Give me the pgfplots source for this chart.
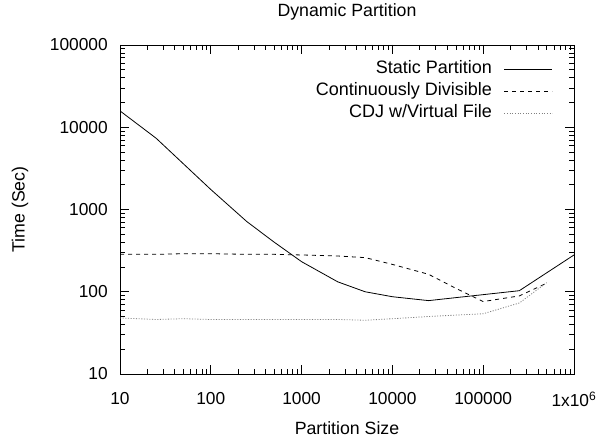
\documentclass[border=0pt]{standalone}
\usepackage{pgfplots}
\pgfplotsset{compat=1.18}
\usepackage{fontspec}
\setmainfont{Liberation Sans}
\begin{document}
\begin{tikzpicture}[font=\fontsize{13.3}{16}\selectfont]
\path[use as bounding box] (0pt,0pt) rectangle (452.25pt,330.75pt);
\begin{axis}[
  at={(90pt,50.25pt)}, anchor=south west,
  scale only axis, width=340.5pt, height=246.75pt,
  xmode=log, ymode=log,
  xmin=10, xmax=1000000, ymin=10, ymax=100000,
  /pgf/number format/assume math mode=true,
  xtick={10,100,1000,10000,100000,1000000},
  xticklabels={10,100,1000,10000,100000,{1x10\textsuperscript{6}}},
  ytick={10,100,1000,10000,100000},
  yticklabels={10,100,1000,10000,100000},
  tick label style={font=\fontsize{13}{15.6}\selectfont},
  xticklabel style={anchor=center, yshift=-18.75pt},
  yticklabel style={anchor=east, inner sep=0pt, xshift=-9pt},
  tick align=inside, xtick pos=both, ytick pos=both,
  major tick length=6.5pt, minor tick length=3.4pt,
  tick style={black, line width=0.5pt},
  axis line style={black, line width=0.6pt},
  title={Dynamic Partition},
  title style={at={(axis description cs:0.5,1.076)}, anchor=center, font=\fontsize{13.3}{16}\selectfont},
  xlabel={Partition Size}, ylabel={Time (Sec)},
  xlabel style={at={(axis description cs:0.5,-0.1641)}, anchor=center, font=\fontsize{13.3}{16}\selectfont},
  ylabel style={at={(axis description cs:-0.2203,0.5)}, anchor=center, font=\fontsize{13.3}{16}\selectfont},
  legend style={draw=none, fill=none, at={(axis description cs:0.9537,0.953)}, anchor=north east,
    inner sep=0pt, row sep=4pt, column sep=9pt,
    nodes={inner sep=0pt, text height=9.5pt, text depth=3pt},
    font=\fontsize{13.5}{16}\selectfont},
  legend cell align=right,
  legend plot pos=right,
  legend image code/.code={\draw[#1] (0pt,0pt) -- (36pt,0pt);},
]
\addplot[black, line width=0.6pt] coordinates {
(10,15800) (25,7350) (100,1750) (250,711) (500,400) (1000,232) (2500,132) (5000,100) (10000,87) (25000,78) (250000,103) (1000000,280)};
\addlegendentry{Static Partition}
\addplot[black, line width=0.6pt, dash pattern=on 3pt off 3pt] coordinates {
(10,285) (25,285) (50,290) (100,290) (250,285) (500,285) (1000,280) (2500,272) (5000,260) (10000,215) (25000,163) (50000,110) (100000,76) (250000,89) (500000,127)};
\addlegendentry{Continuously Divisible}
\addplot[gray, line width=0.6pt, dash pattern=on 0.8pt off 1.2pt] coordinates {
(10,48) (25,46) (50,47) (100,46) (250,46) (500,46) (1000,46) (2500,46) (5000,45) (10000,47) (25000,50) (50000,52) (100000,54) (250000,73) (500000,129)};
\addlegendentry{CDJ w/Virtual File}
\end{axis}
\end{tikzpicture}
\end{document}
